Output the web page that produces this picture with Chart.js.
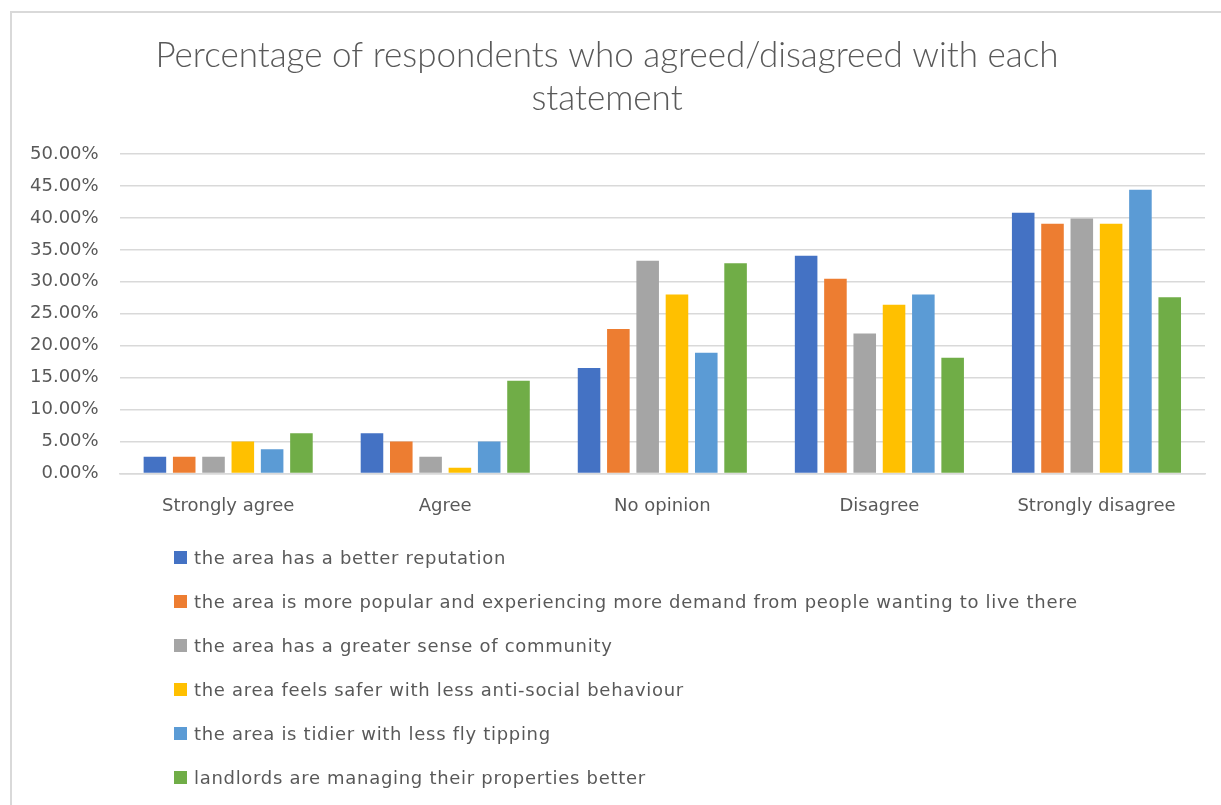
<!DOCTYPE html>
<html>
<head>
<meta charset="utf-8">
<script src="https://cdn.jsdelivr.net/npm/chart.js@4/dist/chart.umd.min.js"></script>
<style>
  body { margin: 0; background: #fff; }
  #wrap { position: relative; width: 1221px; height: 805px; overflow: hidden; }
  #frame { position: absolute; left: 10px; top: 11px; width: 1400px; height: 1000px;
           border-left: 2px solid #d9d9d9; border-top: 2px solid #d9d9d9; }
  #chart1 { position: absolute; left: 0; top: 0; }
  #legend { position: absolute; left: 174px; top: 535px; margin: 0; padding: 0; list-style: none;
            font-family: "DejaVu Sans", sans-serif; font-size: 18px; color: #595959; letter-spacing: 0.7px; }
  #legend li { display: flex; align-items: center; height: 44px; white-space: nowrap; }
  #legend span.box { display: inline-block; width: 13px; height: 13px; margin-right: 7px; }
</style>
</head>
<body>
<div id="wrap">
  <div id="frame"></div>
  <canvas id="chart1" width="1221" height="805"></canvas>
  <ul id="legend"></ul>
</div>
<script>
'use strict';

const categories = ['Strongly agree', 'Agree', 'No opinion', 'Disagree', 'Strongly disagree'];
const seriesNames = [
  'the area has a better reputation',
  'the area is more popular and experiencing more demand from people wanting to live there',
  'the area has a greater sense of community',
  'the area feels safer with less anti-social behaviour',
  'the area is tidier with less fly tipping',
  'landlords are managing their properties better'
];
const reputation = [2.6, 6.3, 16.5, 34.1, 40.8];
const popular    = [2.6, 5.0, 22.6, 30.5, 39.1];
const community  = [2.6, 2.6, 33.3, 21.9, 39.9];
const safer      = [5.0, 0.9, 28.0, 26.4, 39.1];
const tidier     = [3.8, 5.0, 18.9, 28.0, 44.4];
const landlords  = [6.3, 14.5, 32.9, 18.1, 27.6];
const colors = ['#4472C4', '#ED7D31', '#A5A5A5', '#FFC000', '#5B9BD5', '#70AD47'];

window.addEventListener('load', run);

function run(){
  chart1();
};

function chart1() {
  const ctx = document.getElementById('chart1').getContext('2d');
  const values = [reputation, popular, community, safer, tidier, landlords];
  const textColor = '#595959';
  const myChart = new Chart(ctx, {
    type: 'bar',
    data: {
      labels: categories,
      datasets: values.map((v, i) => ({
        label: seriesNames[i],
        data: v,
        backgroundColor: colors[i],
        borderWidth: 0,
        barPercentage: 0.77,
        categoryPercentage: 0.81
      }))
    },
    options: {
      responsive: false,
      animation: false,
      layout: { padding: { left: 9, right: 16, top: 0, bottom: 266 } },
      plugins: {
        legend: { display: false },
        tooltip: { enabled: false },
        title: {
          display: true,
          text: ['Percentage of respondents who agreed/disagreed with each', 'statement'],
          color: textColor,
          font: { family: 'Lato', size: 35, weight: '300', lineHeight: 1.23 },
          padding: { top: 34, bottom: 34 }
        }
      },
      scales: {
        x: {
          grid: { display: false, drawTicks: false },
          border: { color: '#d9d9d9', width: 1.5 },
          ticks: { color: textColor, padding: 22, font: { family: 'DejaVu Sans', size: 18 } }
        },
        y: {
          min: 0,
          max: 50,
          grid: { color: '#d9d9d9', lineWidth: 1.5, drawTicks: false },
          border: { display: false },
          ticks: {
            stepSize: 5,
            color: textColor,
            padding: 21,
            font: { family: 'DejaVu Sans', size: 18 },
            callback: v => v.toFixed(2) + '%'
          }
        }
      }
    }
  });

  // html legend, one item per row like the original
  const ul = document.getElementById('legend');
  myChart.data.datasets.forEach(ds => {
    const li = document.createElement('li');
    const box = document.createElement('span');
    box.className = 'box';
    box.style.background = ds.backgroundColor;
    li.appendChild(box);
    li.appendChild(document.createTextNode(ds.label));
    ul.appendChild(li);
  });
};
</script>
</body>
</html>
